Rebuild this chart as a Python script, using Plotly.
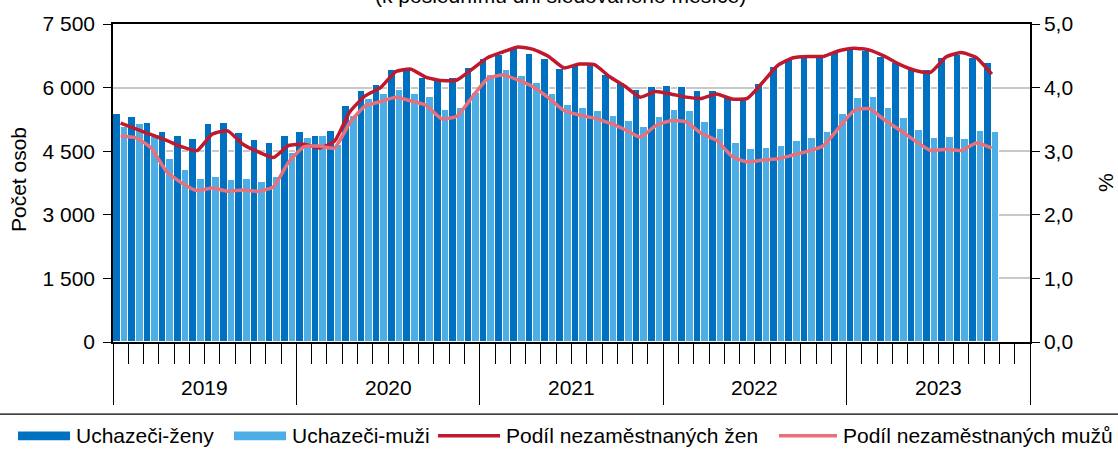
import plotly.graph_objects as go

# ---------------- data ----------------
years = ["2019", "2020", "2021", "2022", "2023"]
months = ["01", "02", "03", "04", "05", "06", "07", "08", "09", "10", "11", "12"]
month_labels = [f"{y}-{m}" for y in years for m in months]

# Uchazeči-ženy (počet osob)
women = [5385, 5308, 5169, 4960, 4867, 4782, 5153, 5176, 4937, 4759, 4682, 4867,
         4950, 4870, 4980, 5570, 5910, 6070, 6406, 6420, 6236, 6174, 6236, 6455,
         6670, 6777, 6909, 6800, 6685, 6440, 6515, 6530, 6290, 6115, 5950, 6004,
         6034, 6004, 5915, 5930, 5749, 5749, 6081, 6484, 6654, 6716, 6716, 6809,
         6890, 6870, 6731, 6577, 6422, 6406, 6693, 6770, 6693, 6577]
# Uchazeči-muži (počet osob)
men = [5070, 5146, 4837, 4327, 4048, 3854, 3893, 3823, 3847, 3785, 3893, 4450,
       4821, 4855, 4640, 5330, 5726, 5842, 5942, 5842, 5779, 5478, 5517, 5880,
       6306, 6406, 6285, 6097, 5838, 5594, 5515, 5460, 5338, 5208, 5076, 5310,
       5471, 5447, 5196, 5033, 4682, 4543, 4573, 4620, 4736, 4805, 4953, 5378,
       5749, 5772, 5517, 5285, 4999, 4814, 4837, 4798, 4975, 4960]
# Podíl nezaměstnaných žen (%)
share_women = [3.44, 3.35, 3.26, 3.17, 3.07, 3.01, 3.27, 3.32, 3.11, 2.99, 2.90, 3.09,
               3.11, 3.05, 3.16, 3.62, 3.87, 4.00, 4.25, 4.29, 4.16, 4.11, 4.12, 4.29,
               4.47, 4.56, 4.64, 4.60, 4.49, 4.31, 4.37, 4.36, 4.17, 4.02, 3.85, 3.94,
               3.90, 3.85, 3.83, 3.90, 3.82, 3.83, 4.08, 4.35, 4.47, 4.49, 4.49, 4.58,
               4.62, 4.59, 4.49, 4.36, 4.27, 4.24, 4.48, 4.55, 4.47, 4.21]
# Podíl nezaměstnaných mužů (%)
share_men = [3.24, 3.21, 3.05, 2.68, 2.50, 2.38, 2.42, 2.37, 2.39, 2.37, 2.44, 2.83,
             3.07, 3.08, 3.05, 3.45, 3.71, 3.78, 3.85, 3.79, 3.72, 3.51, 3.55, 3.85,
             4.14, 4.20, 4.12, 4.01, 3.84, 3.64, 3.57, 3.52, 3.44, 3.34, 3.22, 3.40,
             3.48, 3.46, 3.28, 3.17, 2.92, 2.83, 2.86, 2.88, 2.94, 3.00, 3.09, 3.37,
             3.64, 3.67, 3.49, 3.33, 3.16, 3.01, 3.03, 3.01, 3.13, 3.05]

names = ["Uchazeči-ženy", "Uchazeči-muži", "Podíl nezaměstnaných žen", "Podíl nezaměstnaných mužů"]
title_text = "(k poslednímu dni sledovaného měsíce)"

# ---------------- style ----------------
C_WOMEN = "#0070C0"
C_MEN = "#4DAEE6"
C_SW = "#C0182C"
C_SM = "#E9707B"
FONT = "Liberation Sans, Arial, sans-serif"
FS = 21

W, H = 1118, 449
ML, MR, MT, MB = 113, 88, 20, 107
PW, PH = W - ML - MR, H - MT - MB


def px_x(px):
    return (px - ML) / PW


def px_y(py):
    return (H - MB - py) / PH


n = len(month_labels)
xd_w = month_labels[:len(women)]
xd_m = month_labels[:len(men)]

fig = go.Figure()
fig.add_trace(go.Bar(x=xd_w, y=women, name=names[0], marker=dict(color=C_WOMEN, line=dict(color="white", width=1)),
                     showlegend=False))
fig.add_trace(go.Bar(x=xd_m, y=men, name=names[1], marker=dict(color=C_MEN, line=dict(color="white", width=1)),
                     showlegend=False))
fig.add_trace(go.Scatter(x=month_labels[:len(share_women)], y=share_women, name=names[2], yaxis="y2",
                         mode="lines", line=dict(color=C_SW, width=3.5, shape="spline", smoothing=0.5),
                         showlegend=False))
fig.add_trace(go.Scatter(x=month_labels[:len(share_men)], y=share_men, name=names[3], yaxis="y2",
                         mode="lines", line=dict(color=C_SM, width=3.5, shape="spline", smoothing=0.5),
                         showlegend=False))
# helper traces so the overlay axes are drawn
fig.add_trace(go.Scatter(x=[-0.5, n - 0.5], y=[None, None], xaxis="x2", showlegend=False, hoverinfo="skip"))
fig.add_trace(go.Scatter(x=[-0.5, n - 0.5], y=[None, None], xaxis="x3", showlegend=False, hoverinfo="skip"))

month_bounds = [i - 0.5 for i in range(n + 1)]
year_bounds = [i * 12 - 0.5 for i in range(len(years) + 1)]
year_centers = [i * 12 + 5.5 for i in range(len(years))]

fig.update_layout(
    width=W, height=H,
    margin=dict(l=ML, r=MR, t=MT, b=MB, pad=0),
    paper_bgcolor="white", plot_bgcolor="white",
    separators=", ",
    font=dict(family=FONT, size=FS, color="black"),
    barmode="group", bargap=0.0, bargroupgap=0.0,
    xaxis=dict(type="category", categoryorder="array", categoryarray=month_labels,
               range=[-0.5, n - 0.5], showticklabels=False, ticks="", showgrid=False,
               showline=True, linecolor="black", linewidth=1.5, mirror=True, zeroline=False),
    xaxis2=dict(overlaying="x", anchor="y", type="linear", range=[-0.5, n - 0.5],
                tickmode="array", tickvals=month_bounds, ticks="outside", ticklen=21,
                tickwidth=1.2, tickcolor="black", showticklabels=False, showgrid=False,
                showline=False, zeroline=False),
    xaxis3=dict(overlaying="x", anchor="y", type="linear", range=[-0.5, n - 0.5],
                tickmode="array", tickvals=year_bounds, ticks="outside", ticklen=62,
                tickwidth=1.2, tickcolor="black", showticklabels=False, showgrid=False,
                showline=False, zeroline=False),
    yaxis=dict(range=[0, 7500], tickmode="linear", tick0=0, dtick=1500, tickformat=",.0f",
               showgrid=True, gridcolor="#C8C8C8", gridwidth=1.5,
               showline=True, linecolor="black", linewidth=1.5, ticklabelstandoff=4,
               ticks="outside", ticklen=8, tickwidth=1.2, tickcolor="black", zeroline=False,
               tickfont=dict(size=21)),
    yaxis2=dict(overlaying="y", side="right", range=[0, 5], tickmode="linear", tick0=0, dtick=1,
                tickformat=".1f", showgrid=False, showline=True, linecolor="black", linewidth=1.5,
                ticks="outside", ticklen=8, tickwidth=1.2, tickcolor="black", zeroline=False,
                tickfont=dict(size=21)),
)

ann = []
# year labels
for yr, xc in zip(years, year_centers):
    ann.append(dict(x=xc, xref="x3", y=px_y(388), yref="paper", text=yr, showarrow=False,
                    xanchor="center", yanchor="middle", font=dict(size=FS)))
# axis titles
ann.append(dict(x=px_x(18), xref="paper", y=px_y(178), yref="paper", text="Počet osob", textangle=-90,
                showarrow=False, xanchor="center", yanchor="middle", font=dict(size=FS)))
ann.append(dict(x=px_x(1105), xref="paper", y=px_y(181), yref="paper", text="%", textangle=-90,
                showarrow=False, xanchor="center", yanchor="middle", font=dict(size=FS)))
# title (cut at the top, as in the source)
ann.append(dict(x=px_x(560), xref="paper", y=px_y(5), yref="paper", text=title_text,
                showarrow=False, xanchor="center", yanchor="bottom", font=dict(size=FS)))

shapes = []
# separator above legend
shapes.append(dict(type="line", xref="paper", yref="paper", x0=px_x(0), x1=px_x(W), y0=px_y(415), y1=px_y(415),
                   line=dict(color="black", width=1.2)))
LY = 437
leg = [("rect", C_WOMEN, 18, 70, 74, names[0]),
       ("rect", C_MEN, 234, 286, 290, names[1]),
       ("line", C_SW, 438, 500, 504, names[2]),
       ("line", C_SM, 779, 837, 841, names[3])]
for kind, col, a, b, tx, label in leg:
    if kind == "rect":
        shapes.append(dict(type="rect", xref="paper", yref="paper", x0=px_x(a), x1=px_x(b),
                           y0=px_y(LY - 4.5), y1=px_y(LY + 4.5), fillcolor=col, line=dict(width=0)))
    else:
        shapes.append(dict(type="line", xref="paper", yref="paper", x0=px_x(a), x1=px_x(b),
                           y0=px_y(LY), y1=px_y(LY), line=dict(color=col, width=3.5)))
    ann.append(dict(x=px_x(tx), xref="paper", y=px_y(LY), yref="paper", text=label, showarrow=False,
                    xanchor="left", yanchor="middle", font=dict(size=FS)))

fig.update_layout(annotations=ann, shapes=shapes)

fig.write_html("out.html", config={"displayModeBar": False},
               post_script="document.body.style.margin='0';document.body.style.overflow='hidden';")
